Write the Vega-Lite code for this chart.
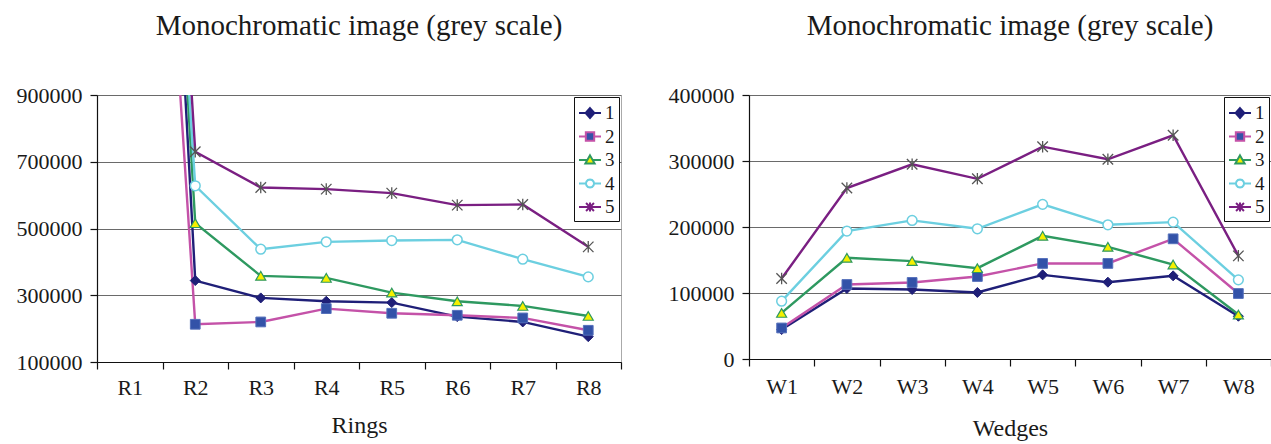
{
  "$schema": "https://vega.github.io/schema/vega-lite/v6.json",
  "padding": {"left": 12, "top": 11, "right": 0, "bottom": 0},
  "spacing": 41,
  "resolve": {
    "scale": {"shape": "independent", "fill": "independent", "stroke": "independent", "x": "independent", "y": "independent"},
    "legend": {"shape": "independent", "fill": "independent", "stroke": "independent"}
  },
  "config": {
    "font": "Liberation Serif",
    "view": {"stroke": "#aaaaaa", "strokeWidth": 1},
    "title": {"font": "Liberation Serif", "fontSize": 29, "fontWeight": "normal", "color": "#1a1a1a", "anchor": "middle", "offset": 43},
    "axis": {"labelFont": "Liberation Serif", "labelFontSize": 22, "labelColor": "#1a1a1a", "titleFont": "Liberation Serif", "titleFontSize": 24, "titleFontWeight": "normal", "titleColor": "#1a1a1a", "domainColor": "#111111", "domainWidth": 1.2, "tickColor": "#111111", "tickSize": 7, "tickWidth": 1.2, "gridColor": "#6a6a6a", "gridWidth": 1},
    "axisX": {"grid": false, "labelAngle": 0, "tickBand": "extent", "labelPadding": 8, "titlePadding": 15},
    "axisY": {"grid": true, "minExtent": 84, "maxExtent": 84, "labelPadding": 8},
    "legend": {"orient": "top-right", "offset": 2, "strokeColor": "#111111", "fillColor": "#ffffff", "padding": 4, "labelFont": "Liberation Serif", "labelFontSize": 19, "labelColor": "#1a1a1a", "symbolSize": 484, "symbolStrokeWidth": 2, "symbolOpacity": 1, "rowPadding": 1.5, "labelOffset": 3}
  },
  "datasets": {
    "rings": [
      {"cat": "R1", "s": "1", "v": 4000000}, {"cat": "R1", "s": "2", "v": 3220000}, {"cat": "R1", "s": "3", "v": 3830000}, {"cat": "R1", "s": "4", "v": 3620000}, {"cat": "R1", "s": "5", "v": 3870000},
      {"cat": "R2", "s": "1", "v": 344000}, {"cat": "R2", "s": "2", "v": 213000}, {"cat": "R2", "s": "3", "v": 516000}, {"cat": "R2", "s": "4", "v": 628000}, {"cat": "R2", "s": "5", "v": 730000},
      {"cat": "R3", "s": "1", "v": 292000}, {"cat": "R3", "s": "2", "v": 220000}, {"cat": "R3", "s": "3", "v": 358000}, {"cat": "R3", "s": "4", "v": 438000}, {"cat": "R3", "s": "5", "v": 623000},
      {"cat": "R4", "s": "1", "v": 282000}, {"cat": "R4", "s": "2", "v": 260000}, {"cat": "R4", "s": "3", "v": 352000}, {"cat": "R4", "s": "4", "v": 460000}, {"cat": "R4", "s": "5", "v": 618000},
      {"cat": "R5", "s": "1", "v": 278000}, {"cat": "R5", "s": "2", "v": 246000}, {"cat": "R5", "s": "3", "v": 308000}, {"cat": "R5", "s": "4", "v": 464000}, {"cat": "R5", "s": "5", "v": 606000},
      {"cat": "R6", "s": "1", "v": 236000}, {"cat": "R6", "s": "2", "v": 240000}, {"cat": "R6", "s": "3", "v": 282000}, {"cat": "R6", "s": "4", "v": 466000}, {"cat": "R6", "s": "5", "v": 570000},
      {"cat": "R7", "s": "1", "v": 220000}, {"cat": "R7", "s": "2", "v": 232000}, {"cat": "R7", "s": "3", "v": 268000}, {"cat": "R7", "s": "4", "v": 408000}, {"cat": "R7", "s": "5", "v": 572000},
      {"cat": "R8", "s": "1", "v": 176000}, {"cat": "R8", "s": "2", "v": 195000}, {"cat": "R8", "s": "3", "v": 238000}, {"cat": "R8", "s": "4", "v": 355000}, {"cat": "R8", "s": "5", "v": 445000}
    ],
    "wedges": [
      {"cat": "W1", "s": "1", "v": 44600}, {"cat": "W1", "s": "2", "v": 47000}, {"cat": "W1", "s": "3", "v": 69800}, {"cat": "W1", "s": "4", "v": 87600}, {"cat": "W1", "s": "5", "v": 122000},
      {"cat": "W2", "s": "1", "v": 106800}, {"cat": "W2", "s": "2", "v": 112900}, {"cat": "W2", "s": "3", "v": 153300}, {"cat": "W2", "s": "4", "v": 193800}, {"cat": "W2", "s": "5", "v": 259000},
      {"cat": "W3", "s": "1", "v": 105300}, {"cat": "W3", "s": "2", "v": 116000}, {"cat": "W3", "s": "3", "v": 148300}, {"cat": "W3", "s": "4", "v": 210000}, {"cat": "W3", "s": "5", "v": 295000},
      {"cat": "W4", "s": "1", "v": 100800}, {"cat": "W4", "s": "2", "v": 125000}, {"cat": "W4", "s": "3", "v": 137600}, {"cat": "W4", "s": "4", "v": 197300}, {"cat": "W4", "s": "5", "v": 273000},
      {"cat": "W5", "s": "1", "v": 127500}, {"cat": "W5", "s": "2", "v": 144800}, {"cat": "W5", "s": "3", "v": 186600}, {"cat": "W5", "s": "4", "v": 234300}, {"cat": "W5", "s": "5", "v": 321700},
      {"cat": "W6", "s": "1", "v": 116400}, {"cat": "W6", "s": "2", "v": 144800}, {"cat": "W6", "s": "3", "v": 170000}, {"cat": "W6", "s": "4", "v": 203300}, {"cat": "W6", "s": "5", "v": 302600},
      {"cat": "W7", "s": "1", "v": 126000}, {"cat": "W7", "s": "2", "v": 182100}, {"cat": "W7", "s": "3", "v": 143200}, {"cat": "W7", "s": "4", "v": 207400}, {"cat": "W7", "s": "5", "v": 339000},
      {"cat": "W8", "s": "1", "v": 64800}, {"cat": "W8", "s": "2", "v": 99200}, {"cat": "W8", "s": "3", "v": 67400}, {"cat": "W8", "s": "4", "v": 119900}, {"cat": "W8", "s": "5", "v": 156300}
    ]
  },
  "hconcat": [
    {
      "width": 524,
      "height": 267,
      "title": "Monochromatic image (grey scale)",
      "data": {"name": "rings"},
      "encoding": {
        "x": {"field": "cat", "type": "nominal", "bandPosition": 0.5, "scale": {"type": "band", "paddingInner": 0, "paddingOuter": 0}, "title": "Rings"},
        "y": {"field": "v", "type": "quantitative", "scale": {"domain": [100000, 900000], "nice": false, "zero": false}, "axis": {"values": [100000, 300000, 500000, 700000, 900000], "format": "d"}, "title": null}
      },
      "layer": [
        {"transform": [{"filter": "datum.s == '1'"}], "mark": {"type": "line", "clip": true, "strokeWidth": 2.4, "stroke": "#1f1f78"}},
        {"transform": [{"filter": "datum.s == '2'"}], "mark": {"type": "line", "clip": true, "strokeWidth": 2.4, "stroke": "#c452a8"}},
        {"transform": [{"filter": "datum.s == '3'"}], "mark": {"type": "line", "clip": true, "strokeWidth": 2.4, "stroke": "#2e9960"}},
        {"transform": [{"filter": "datum.s == '4'"}], "mark": {"type": "line", "clip": true, "strokeWidth": 2.4, "stroke": "#6ccfe0"}},
        {"transform": [{"filter": "datum.s == '5'"}], "mark": {"type": "line", "clip": true, "strokeWidth": 2.4, "stroke": "#7a1f82"}},
        {"mark": {"type": "point", "clip": true, "filled": true, "opacity": 0},
         "encoding": {
           "shape": {"field": "s", "type": "nominal", "legend": {"title": null}, "scale": {"domain": ["1", "2", "3", "4", "5"], "range": ["M-1,0L1,0M0,-0.45L0.4,0L0,0.45L-0.4,0Z", "M-1,0L-0.38,0M0.38,0L1,0M-0.38,-0.38L0.38,-0.38L0.38,0.38L-0.38,0.38Z", "M-1,0L-0.24,0M0.24,0L1,0M0,-0.42L0.42,0.32L-0.42,0.32Z", "M-1,0L-0.37,0M0.37,0L1,0M0.37,0L0.32,0.185L0.185,0.32L0,0.37L-0.185,0.32L-0.32,0.185L-0.37,0L-0.32,-0.185L-0.185,-0.32L0,-0.37L0.185,-0.32L0.32,-0.185Z", "M-1,0L1,0M-0.36,-0.36L0.36,0.36M-0.36,0.36L0.36,-0.36M0,-0.42L0,0.42"]}},
           "fill": {"field": "s", "type": "nominal", "legend": {"title": null}, "scale": {"domain": ["1", "2", "3", "4", "5"], "range": ["#1f1f78", "#3352a8", "#f5f000", "#ffffff", "transparent"]}},
           "stroke": {"field": "s", "type": "nominal", "legend": {"title": null}, "scale": {"domain": ["1", "2", "3", "4", "5"], "range": ["#1f1f78", "#c452a8", "#2e9960", "#6ccfe0", "#7a1f82"]}}
         }},
        {"transform": [{"filter": "datum.s == '1'"}], "mark": {"type": "point", "clip": true, "shape": "diamond", "filled": true, "fill": "#1f1f78", "stroke": "#1f1f78", "strokeWidth": 1, "size": 100, "opacity": 1}},
        {"transform": [{"filter": "datum.s == '2'"}], "mark": {"type": "point", "clip": true, "shape": "square", "filled": true, "fill": "#3352a8", "stroke": "#5570bb", "strokeWidth": 1, "size": 95, "opacity": 1}},
        {"transform": [{"filter": "datum.s == '3'"}], "mark": {"type": "point", "clip": true, "shape": "triangle-up", "filled": true, "fill": "#f5f000", "stroke": "#2e9960", "strokeWidth": 1.2, "size": 100, "opacity": 1}},
        {"transform": [{"filter": "datum.s == '4'"}], "mark": {"type": "point", "clip": true, "shape": "circle", "filled": true, "fill": "#ffffff", "stroke": "#6ccfe0", "strokeWidth": 1.5, "size": 95, "opacity": 1}},
        {"transform": [{"filter": "datum.s == '5'"}], "mark": {"type": "point", "clip": true, "shape": "M-1,-1L1,1M-1,1L1,-1M0,-1.1L0,1.1", "filled": false, "fill": "transparent", "stroke": "#555555", "strokeWidth": 1.3, "size": 110, "opacity": 1}}
      ]
    },
    {
      "width": 522,
      "height": 264,
      "title": "Monochromatic image (grey scale)",
      "data": {"name": "wedges"},
      "encoding": {
        "x": {"field": "cat", "type": "nominal", "bandPosition": 0.5, "scale": {"type": "band", "paddingInner": 0, "paddingOuter": 0}, "title": "Wedges", "axis": {"labelPadding": 10, "titlePadding": 19}},
        "y": {"field": "v", "type": "quantitative", "scale": {"domain": [0, 400000], "nice": false}, "axis": {"values": [0, 100000, 200000, 300000, 400000], "format": "d"}, "title": null}
      },
      "layer": [
        {"transform": [{"filter": "datum.s == '1'"}], "mark": {"type": "line", "clip": true, "strokeWidth": 2.4, "stroke": "#1f1f78"}},
        {"transform": [{"filter": "datum.s == '2'"}], "mark": {"type": "line", "clip": true, "strokeWidth": 2.4, "stroke": "#c452a8"}},
        {"transform": [{"filter": "datum.s == '3'"}], "mark": {"type": "line", "clip": true, "strokeWidth": 2.4, "stroke": "#2e9960"}},
        {"transform": [{"filter": "datum.s == '4'"}], "mark": {"type": "line", "clip": true, "strokeWidth": 2.4, "stroke": "#6ccfe0"}},
        {"transform": [{"filter": "datum.s == '5'"}], "mark": {"type": "line", "clip": true, "strokeWidth": 2.4, "stroke": "#7a1f82"}},
        {"mark": {"type": "point", "clip": true, "filled": true, "opacity": 0},
         "encoding": {
           "shape": {"field": "s", "type": "nominal", "legend": {"title": null}, "scale": {"domain": ["1", "2", "3", "4", "5"], "range": ["M-1,0L1,0M0,-0.45L0.4,0L0,0.45L-0.4,0Z", "M-1,0L-0.38,0M0.38,0L1,0M-0.38,-0.38L0.38,-0.38L0.38,0.38L-0.38,0.38Z", "M-1,0L-0.24,0M0.24,0L1,0M0,-0.42L0.42,0.32L-0.42,0.32Z", "M-1,0L-0.37,0M0.37,0L1,0M0.37,0L0.32,0.185L0.185,0.32L0,0.37L-0.185,0.32L-0.32,0.185L-0.37,0L-0.32,-0.185L-0.185,-0.32L0,-0.37L0.185,-0.32L0.32,-0.185Z", "M-1,0L1,0M-0.36,-0.36L0.36,0.36M-0.36,0.36L0.36,-0.36M0,-0.42L0,0.42"]}},
           "fill": {"field": "s", "type": "nominal", "legend": {"title": null}, "scale": {"domain": ["1", "2", "3", "4", "5"], "range": ["#1f1f78", "#3352a8", "#f5f000", "#ffffff", "transparent"]}},
           "stroke": {"field": "s", "type": "nominal", "legend": {"title": null}, "scale": {"domain": ["1", "2", "3", "4", "5"], "range": ["#1f1f78", "#c452a8", "#2e9960", "#6ccfe0", "#7a1f82"]}}
         }},
        {"transform": [{"filter": "datum.s == '1'"}], "mark": {"type": "point", "clip": true, "shape": "diamond", "filled": true, "fill": "#1f1f78", "stroke": "#1f1f78", "strokeWidth": 1, "size": 100, "opacity": 1}},
        {"transform": [{"filter": "datum.s == '2'"}], "mark": {"type": "point", "clip": true, "shape": "square", "filled": true, "fill": "#3352a8", "stroke": "#5570bb", "strokeWidth": 1, "size": 95, "opacity": 1}},
        {"transform": [{"filter": "datum.s == '3'"}], "mark": {"type": "point", "clip": true, "shape": "triangle-up", "filled": true, "fill": "#f5f000", "stroke": "#2e9960", "strokeWidth": 1.2, "size": 100, "opacity": 1}},
        {"transform": [{"filter": "datum.s == '4'"}], "mark": {"type": "point", "clip": true, "shape": "circle", "filled": true, "fill": "#ffffff", "stroke": "#6ccfe0", "strokeWidth": 1.5, "size": 95, "opacity": 1}},
        {"transform": [{"filter": "datum.s == '5'"}], "mark": {"type": "point", "clip": true, "shape": "M-1,-1L1,1M-1,1L1,-1M0,-1.1L0,1.1", "filled": false, "fill": "transparent", "stroke": "#555555", "strokeWidth": 1.3, "size": 110, "opacity": 1}}
      ]
    }
  ]
}
